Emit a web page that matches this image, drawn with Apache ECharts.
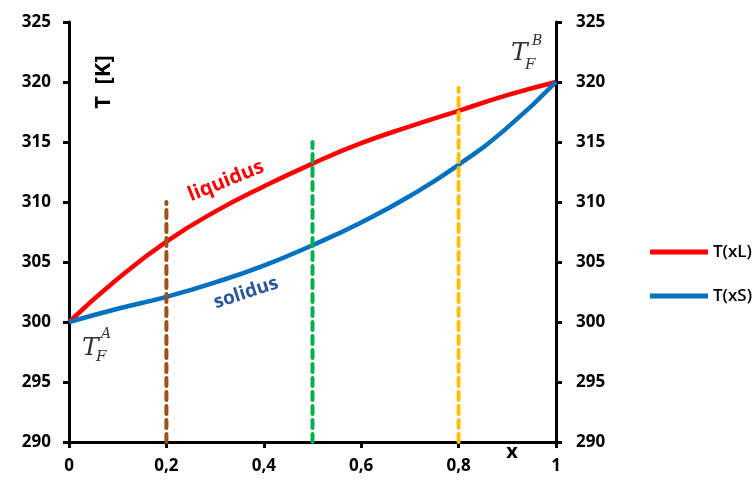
<!DOCTYPE html>
<html>
<head>
<meta charset="utf-8">
<script src="https://cdn.jsdelivr.net/npm/echarts@6/dist/echarts.min.js"></script>
<style>
  html, body { margin: 0; padding: 0; background: #fff; }
  #chart { width: 756px; height: 480px; }
</style>
</head>
<body>
<div id="chart"></div>
<script>
// Mole fraction of component B
const xValues = [0, 0.1, 0.2, 0.3, 0.4, 0.5, 0.6, 0.7, 0.8, 0.9, 1];
// Liquidus temperature T(xL) in K
const liquidusT = [300, 303.6, 306.7, 309.2, 311.3, 313.2, 314.9, 316.3, 317.6, 318.9, 320];
// Solidus temperature T(xS) in K
const solidusT = [300, 301.1, 302.1, 303.3, 304.7, 306.4, 308.3, 310.5, 313.1, 316.2, 320];
// Vertical composition markers: x, bottom T, top T
const markerX = [0.2, 0.5, 0.8];
const markerTop = [310, 315, 319.5];
const markerBottom = 290;
const markerColors = ['#9C5215', '#00B050', '#FFC000'];
// Axis settings
const yMin = 290, yMax = 325, yStep = 5;
const xMin = 0, xMax = 1, xStep = 0.2;

const pairs = (xs, ys) => xs.map((x, i) => [x, ys[i]]);
const labelFont = 'Open Sans';

const axisLine = { show: true, onZero: false, lineStyle: { color: '#000', width: 3 } };
const axisTick = { show: true, inside: false, length: 6, lineStyle: { color: '#000', width: 3 } };

const yAxisBase = {
  type: 'value', min: yMin, max: yMax, interval: yStep,
  axisLine, axisTick, splitLine: { show: false },
  axisLabel: { fontFamily: labelFont, fontWeight: 'bold', fontSize: 17, color: '#000', margin: 18 }
};

const series = [
  {
    name: 'T(xL)', type: 'line', data: pairs(xValues, liquidusT),
    smooth: true, showSymbol: false, symbol: 'none',
    lineStyle: { color: '#FF0000', width: 4.5 }, itemStyle: { color: '#FF0000' }, z: 3
  },
  {
    name: 'T(xS)', type: 'line', data: pairs(xValues, solidusT),
    smooth: true, showSymbol: false, symbol: 'none',
    lineStyle: { color: '#0070C0', width: 4.5 }, itemStyle: { color: '#0070C0' }, z: 3
  }
];
markerX.forEach((x, i) => {
  series.push({
    name: 'marker' + i, type: 'line', data: [[x, markerBottom], [x, markerTop[i]]],
    showSymbol: false, symbol: 'none', silent: true,
    lineStyle: { color: markerColors[i], width: 4, type: [8, 6], cap: 'round' }, z: 4
  });
});

const chart = echarts.init(document.getElementById('chart'), null, { renderer: 'canvas' });
chart.setOption({
  animation: false,
  backgroundColor: '#fff',
  grid: { left: 69, right: 200, top: 22, bottom: 38, containLabel: false },
  xAxis: {
    type: 'value', min: xMin, max: xMax, interval: xStep,
    axisLine, axisTick, splitLine: { show: false },
    axisLabel: {
      fontFamily: labelFont, fontWeight: 'bold', fontSize: 17, color: '#000', margin: 16,
      formatter: v => String(Math.round(v * 10) / 10).replace('.', ',')
    }
  },
  yAxis: [
    Object.assign({}, yAxisBase, { position: 'left' }),
    Object.assign({}, yAxisBase, { position: 'right', axisLabel: Object.assign({}, yAxisBase.axisLabel, { margin: 20 }) })
  ],
  legend: {
    data: ['T(xL)', 'T(xS)'],
    orient: 'vertical', left: 645, top: 237,
    icon: 'rect', itemWidth: 58, itemHeight: 5, itemGap: 24,
    textStyle: { fontFamily: labelFont, fontWeight: 600, fontSize: 17, color: '#000', lineHeight: 20 }
  },
  series,
  graphic: [
    { type: 'text', x: 104, y: 82, rotation: Math.PI / 2,
      style: { text: 'T  [K]', font: 'bold 22px "Open Sans"', fill: '#000', textAlign: 'center', textVerticalAlign: 'middle' } },
    { type: 'text', x: 512, y: 452,
      style: { text: 'x', font: 'bold 20px "Open Sans"', fill: '#000', textAlign: 'center', textVerticalAlign: 'middle' } },
    { type: 'text', x: 226, y: 181, rotation: 22 * Math.PI / 180,
      style: { text: 'liquidus', font: 'bold 20px "Open Sans"', fill: '#FF0000', textAlign: 'center', textVerticalAlign: 'middle' } },
    { type: 'text', x: 246, y: 293, rotation: 18 * Math.PI / 180,
      style: { text: 'solidus', font: 'bold 19px "Open Sans"', fill: '#2A5599', textAlign: 'center', textVerticalAlign: 'middle' } },
    // T_F^A near the pure-A melting point
    { type: 'text', x: 82, y: 348,
      style: { text: 'T', font: 'italic 25px "DejaVu Serif"', fill: '#333', textAlign: 'left', textVerticalAlign: 'middle' } },
    { type: 'text', x: 96, y: 357,
      style: { text: 'F', font: 'italic 15px "DejaVu Serif"', fill: '#333', textAlign: 'left', textVerticalAlign: 'middle' } },
    { type: 'text', x: 101, y: 334,
      style: { text: 'A', font: 'italic 14px "DejaVu Serif"', fill: '#333', textAlign: 'left', textVerticalAlign: 'middle' } },
    // T_F^B near the pure-B melting point
    { type: 'text', x: 511, y: 53,
      style: { text: 'T', font: 'italic 25px "DejaVu Serif"', fill: '#333', textAlign: 'left', textVerticalAlign: 'middle' } },
    { type: 'text', x: 525, y: 65,
      style: { text: 'F', font: 'italic 15px "DejaVu Serif"', fill: '#333', textAlign: 'left', textVerticalAlign: 'middle' } },
    { type: 'text', x: 532, y: 41,
      style: { text: 'B', font: 'italic 14px "DejaVu Serif"', fill: '#333', textAlign: 'left', textVerticalAlign: 'middle' } }
  ]
});
</script>
</body>
</html>
